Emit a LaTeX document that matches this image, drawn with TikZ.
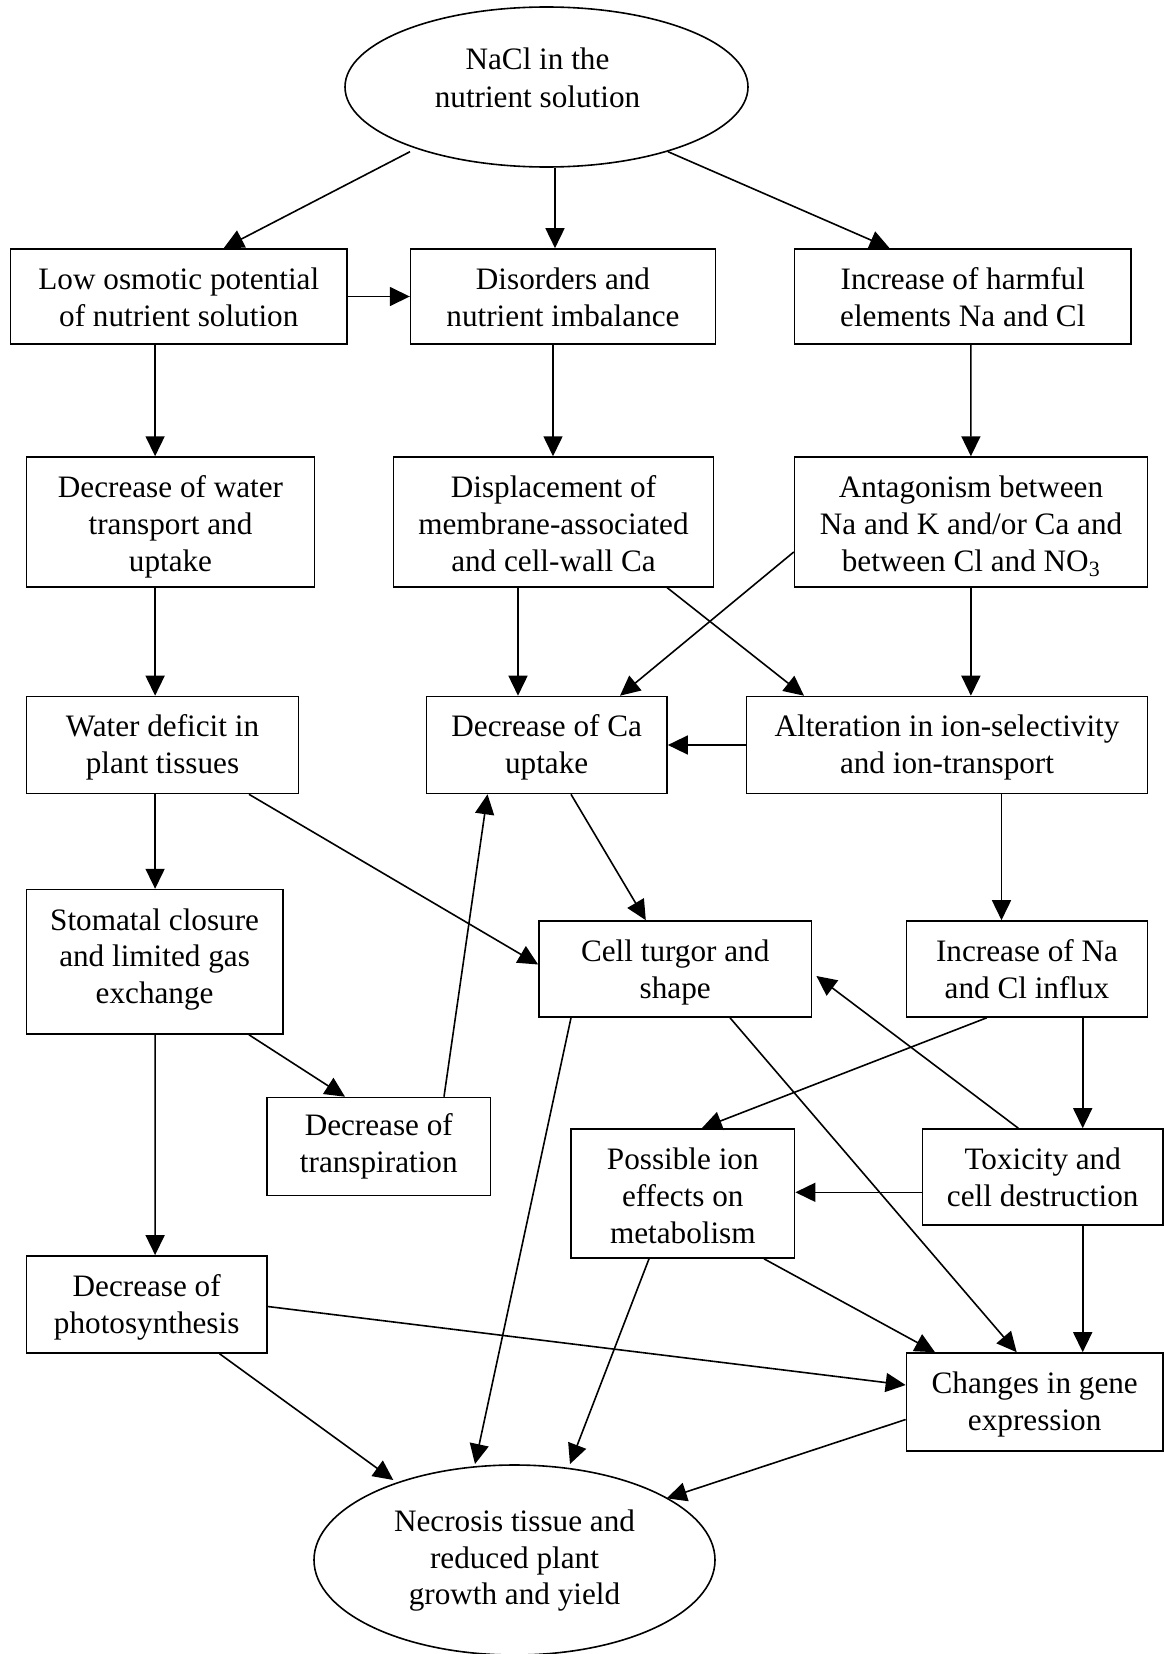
\documentclass[tikz,border=0pt]{standalone}
\usepackage{fontspec}
\setmainfont{Liberation Serif}
\usetikzlibrary{shapes.geometric,arrows.meta,calc}
\tikzset{
  box/.style={draw, line width=1.6pt, rectangle, inner sep=0pt},
  oval/.style={draw, line width=1.6pt, ellipse, inner sep=0pt},
  tx/.style={font=\fontsize{31.2}{36.8}\selectfont, align=center, inner sep=0pt, anchor=north},
  txt/.style={tx, yshift=-15.24pt},
  arr/.style={line width=1.6pt, -{Triangle[length=20pt,width=19pt]}},
}
\begin{document}
\begin{tikzpicture}[x=1pt,y=-1pt]
\fill[white] (0,0) rectangle (1164,1654);
\useasboundingbox (0,0) rectangle (1164,1654);

\node[oval, minimum width=403pt, minimum height=160pt,
  label={[tx, font=\fontsize{31.2}{38}\selectfont, yshift=-36.4pt, xshift=-9pt]north:{\strut NaCl in the\\nutrient solution}}] (A) at (546.5,87) {};
\node[box, minimum width=336.4pt, minimum height=95pt,
  label={[txt]north:{\strut Low osmotic potential\\of nutrient solution}}] (B) at (178.8,296.5) {};
\node[box, minimum width=304.8pt, minimum height=95pt,
  label={[txt]north:{\strut Disorders and\\nutrient imbalance}}] (C) at (563,296.5) {};
\node[box, minimum width=336.4pt, minimum height=95pt,
  label={[txt]north:{\strut Increase of harmful\\elements Na and Cl}}] (D) at (962.8,296.5) {};
\node[box, minimum width=288pt, minimum height=129.7pt,
  label={[txt]north:{\strut Decrease of water\\transport and\\uptake}}] (E) at (170.5,521.9) {};
\node[box, minimum width=319.8pt, minimum height=129.7pt,
  label={[txt]north:{\strut Displacement of\\membrane-associated\\and cell-wall Ca}}] (F) at (553.5,521.9) {};
\node[box, minimum width=352.9pt, minimum height=129.7pt,
  label={[txt]north:{\strut Antagonism between\\Na and K and/or Ca and\\between Cl and NO\textsubscript{3}}}] (G) at (971,521.9) {};
\node[box, minimum width=272.3pt, minimum height=97pt,
  label={[txt]north:{\strut Water deficit in\\plant tissues}}] (H) at (162.5,745) {};
\node[box, minimum width=240.7pt, minimum height=97pt,
  label={[txt]north:{\strut Decrease of Ca\\uptake}}] (I) at (546.7,745) {};
\node[box, minimum width=401pt, minimum height=97pt,
  label={[txt]north:{\strut Alteration in ion-selectivity\\and ion-transport}}] (J) at (947,745) {};
\node[box, minimum width=256.4pt, minimum height=144.4pt,
  label={[txt]north:{\strut Stomatal closure\\and limited gas\\exchange}}] (K) at (154.6,961.8) {};
\node[box, minimum width=272.5pt, minimum height=96pt,
  label={[txt]north:{\strut Cell turgor and\\shape}}] (L) at (675.2,969) {};
\node[box, minimum width=241pt, minimum height=96pt,
  label={[txt]north:{\strut Increase of Na\\and Cl influx}}] (M) at (1027,969) {};
\node[box, minimum width=223.7pt, minimum height=98pt,
  label={[txt, yshift=2.6pt]north:{\strut Decrease of\\transpiration}}] (N) at (378.8,1146.5) {};
\node[box, minimum width=223.6pt, minimum height=129pt,
  label={[txt]north:{\strut Possible ion\\effects on\\metabolism}}] (O) at (682.8,1193.5) {};
\node[box, minimum width=240.5pt, minimum height=96pt,
  label={[txt]north:{\strut Toxicity and\\cell destruction}}] (P) at (1042.7,1177) {};
\node[box, minimum width=240.6pt, minimum height=97pt,
  label={[txt]north:{\strut Decrease of\\photosynthesis}}] (Q) at (146.7,1304.4) {};
\node[box, minimum width=256.5pt, minimum height=98pt,
  label={[txt]north:{\strut Changes in gene\\expression}}] (R) at (1034.7,1402) {};
\node[oval, minimum width=401pt, minimum height=190pt,
  label={[tx, yshift=-41.2pt]north:{\strut Necrosis tissue and\\reduced plant\\growth and yield}}] (S) at (514.5,1560) {};

% connectors
\draw[arr] ($(A.center)+(-136.5,64.7)$) -- ($(B.north)+(44.9,0)$);
\draw[arr] ($(A.south)+(8.5,0)$) -- ($(C.north)+(-8,0)$);
\draw[arr] ($(A.center)+(121.5,64.7)$) -- ($(D.north)+(-73.2,0)$);
\draw[arr] (B.east) -- (C.west);
\draw[arr] ($(B.south)+(-23.7,0)$) -- ($(E.north)+(-15.4,0)$);
\draw[arr] ($(C.south)+(-10,0)$) -- ($(F.north)+(-0.5,0)$);
\draw[arr] ($(D.south)+(8.1,0)$) -- ($(G.north)+(-0.1,0)$);
\draw[arr] ($(E.south)+(-15.4,0)$) -- ($(H.north)+(-7.4,0)$);
\draw[arr] ($(F.south)+(-35.5,0)$) -- ($(I.north)+(-28.7,0)$);
\draw[arr] ($(F.south)+(113.5,0)$) -- ($(J.north)+(-143,0)$);
\draw[arr] ($(G.west)+(0,30.1)$) -- ($(I.north)+(73.3,0)$);
\draw[arr] ($(G.south)+(-0.1,0)$) -- ($(J.north)+(23.9,0)$);
\draw[arr] (J.west) -- (I.east);
\draw[arr] ($(H.south)+(-7.4,0)$) -- ($(K.north)+(0.5,0)$);
\draw[arr] ($(H.south)+(86.5,0)$) -- ($(L.west)+(0,-4.5)$);
\draw[arr] ($(I.south)+(24.3,0)$) -- ($(L.north)+(-29.4,0)$);
\draw[arr] ($(J.south)+(54.5,0)$) -- ($(M.north)+(-25.5,0)$);
\draw[arr] ($(K.south)+(0.5,0)$) -- ($(Q.north)+(8.4,0)$);
\draw[arr] ($(K.south)+(94.4,0)$) -- ($(N.north)+(-33.8,0)$);
\draw[arr] ($(N.north)+(65.2,0)$) -- ($(I.south)+(-59.2,0)$);
\draw[arr] ($(M.south)+(-40.3,0)$) -- ($(O.north)+(19,0)$);
\draw[arr] ($(M.south)+(55.7,0)$) -- ($(P.north)+(40,0)$);
\draw[arr] ($(P.north)+(-24.4,0)$) -- ($(L.east)+(4.2,7)$);
\draw[arr] ($(P.west)+(0,15.3)$) -- ($(O.east)+(0,-1.2)$);
\draw[arr] ($(P.south)+(40,0)$) -- ($(R.north)+(48,0)$);
\draw[arr] ($(L.south)+(-104.2,0)$) -- ($(S.center)+(-39.5,-96)$);
\draw[arr] ($(L.south)+(54.8,0)$) -- ($(R.north)+(-18,0)$);
\draw[arr] ($(O.south)+(81.2,0)$) -- ($(R.north)+(-99.7,0)$);
\draw[arr] ($(O.south)+(-33.8,0)$) -- ($(S.center)+(55.5,-96)$);
\draw[arr] ($(Q.east)+(0,2.1)$) -- ($(R.west)+(0,-17)$);
\draw[arr] ($(Q.south)+(72.8,0)$) -- ($(S.center)+(-121.2,-80)$);
\draw[arr] ($(R.west)+(0,17.5)$) -- ($(S.center)+(152.2,-61.7)$);
\end{tikzpicture}
\end{document}
